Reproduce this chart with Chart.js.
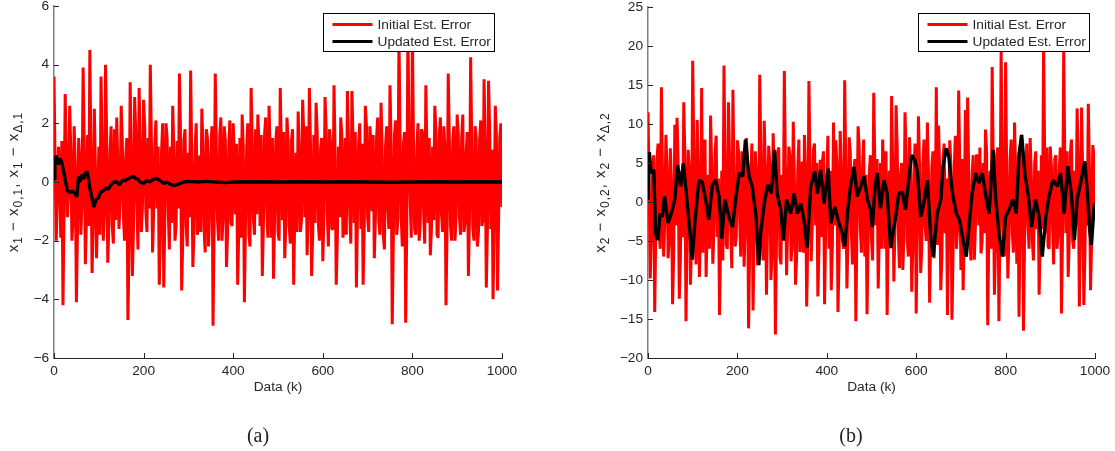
<!DOCTYPE html>
<html>
<head>
<meta charset="utf-8">
<script src="https://cdn.jsdelivr.net/npm/chart.js@4.4.1/dist/chart.umd.min.js"></script>
<style>
  html, body { margin: 0; padding: 0; background: #fff; }
  #wrap { position: relative; width: 1115px; height: 451px; overflow: hidden; }
  canvas { position: absolute; top: 0; }
  .cap { position: absolute; top: 423px; width: 60px; line-height: 24px; text-align: center;
         font-family: "Liberation Serif", "DejaVu Serif", serif; font-size: 20px; color: #222; }
</style>
</head>
<body>
<div id="wrap">
  <canvas id="chartA" width="560" height="451" style="left:0"></canvas>
  <canvas id="chartB" width="555" height="451" style="left:560px"></canvas>
  <div class="cap" style="left:228px">(a)</div>
  <div class="cap" style="left:821px">(b)</div>
</div>
<script>
// --- datos ---
// serie roja: valores en k = 0, 5, 10 ... y valores intermedios en k = 2.5, 7.5 ...
const stepK = 5;
const seriesNames = ['Initial Est. Error', 'Updated Est. Error'];

// (a) x1
const red1 = [
  3.6, -2.0, 1.2, -1.9, -4.2, 3.0, -1.2, 2.6, -2.0, 1.9,
  -4.1, 1.5, -1.8, 3.9, -2.8, 1.6, 4.5, -3.1, 2.5, -2.6,
  1.2, 3.6, -2.0, 4.0, -2.75, 1.0, -1.5, 1.8, 2.2, -1.6,
  2.6, -1.2, 0.8, -4.7, 3.4, -3.2, 2.9, -0.8, 3.2, -1.7,
  2.8, -1.0, 1.5, 4.0, -2.4, 1.3, -0.9, -3.5, 1.0, -3.6,
  2.0, -1.0, 1.2, 2.6, -2.0, 1.4, 3.7, -3.7, 1.4, -1.5,
  1.0, 3.8, -2.9, 1.2, -1.8, 0.9, 2.5, -1.6, 1.8, -2.2,
  1.0, -4.9, 3.7, -1.3, 1.6, -2.0, 1.9, -2.9, 1.2, -1.4,
  2.0, -1.1, -3.5, 1.5, 2.3, -4.1, 1.1, -1.8, 3.2, -1.2,
  1.8, 2.3, -1.5, -3.2, 1.6, -1.0, 2.6, -1.9, -3.3, 1.4,
  -1.7, 3.2, -1.3, -2.6, 2.2, -1.5, 1.4, -3.5, 1.0, 2.4,
  -1.7, 2.8, -1.2, -2.5, 3.2, -3.2, 1.6, 2.7, -1.4, 1.1,
  -2.7, 2.9, -1.0, 1.8, -1.6, 3.3, -3.5, 1.2, 2.2, -1.9,
  1.5, 3.1, -1.0, 3.1, -1.4, -3.6, 1.3, -1.6, -3.5, 2.6,
  -1.2, 1.9, -1.0, -2.6, 1.5, -1.3, 2.7, -1.8, 1.2, -0.9,
  3.3, -4.85, 1.6, -1.8, 5.0, -1.2, 1.3, -4.8, 5.2, -0.6,
  5.1, -1.6, 1.2, -2.0, 1.8, -1.0, 3.3, -1.4, -2.5, 1.2,
  2.6, -1.8, 1.6, -1.1, 1.9, -4.2, 3.7, -1.5, 1.4, -2.0,
  2.3, -1.2, 1.5, -1.7, 1.0, -3.2, 4.25, -1.6, 1.9, -2.2,
  1.4, -1.5, 3.5, -3.6, 3.45, -1.6, -4.0, 2.6, -3.7, 1.5,
  -0.85
];
const redMid1 = [
  0.6, -0.4, 0.3, 1.4, -1.0, 0.9, -0.3, 1.1, -1.3, 0.5,
  -1.6, 0.7, -0.6, 1.3, -1.2, -1.5, 0.9, -1.4, 0.4, -0.9,
  -1.8, 1.0, -1.1, 1.6, -1.4, 1.9, -2.1, -1.3, 0.6, -0.7,
  1.4, -2.0, 1.5, -2.2, 1.0, -1.5, 1.7, -2.3, 1.2, -0.8,
  1.9, -1.7, -0.9, 1.3, -1.0, 2.1, 1.2, -1.8, 2.0, -1.1,
  1.5, -2.3, -1.4, 1.1, -1.5, -0.9, 1.6, -1.9, 1.8, -2.2,
  -1.2, 0.8, -1.6, 2.0, -1.3, -1.7, 1.2, -2.4, 1.5, -0.9,
  1.9, -1.4, 1.1, -2.0, 2.2, -1.2, 1.4, -1.7, 2.1, -1.5,
  1.0, 1.3, -1.6, -1.9, 1.2, -1.3, 2.0, -2.2, 1.5, -1.8,
  -1.1, 1.3, 1.6, -1.4, 2.2, -1.9, 1.0, 1.5, -1.2, 1.9,
  -2.0, 1.2, 1.7, -1.5, 1.4, -2.1, 1.8, -1.0, -1.7, 1.1,
  -1.3, 1.6, 1.9, -1.1, 1.3, -1.8, -1.4, 1.7, -2.0, 1.5,
  -1.2, 1.8, -2.2, 1.3, -1.6, 1.0, -1.9, -1.2, 1.6, -1.4,
  -1.8, 1.2, -2.1, 1.5, 1.7, -1.1, 2.0, 1.3, -1.5, 1.9,
  -1.7, 1.4, 1.6, -1.2, 2.2, -1.8, 1.1, -2.3, 1.9, -1.6,
  1.3, -1.9, 2.1, -1.3, 1.6, -2.2, 1.7, -1.5, 1.4, -1.9,
  1.2, -1.8, 2.0, -1.4, 1.7, -2.1, 1.0, 1.5, -1.6, -1.3,
  1.8, -1.9, 2.2, -1.7, 1.2, -1.5, 1.4, -2.0, 1.9, -1.2,
  1.6, -1.8, 2.3, -1.4, 1.7, -1.1, 1.3, -2.0, 1.5, -1.7,
  2.1, -1.3, 1.2, -1.6, 1.8, 1.1, -1.4, 1.6, -1.2, 2.0
];
const kBlack1 = [0, 2, 5, 9, 13, 17, 21, 26, 30, 36, 41, 46, 51, 55, 58, 62, 66, 70, 74, 77,
  80, 84, 89, 94, 99, 104, 110, 116, 121, 127, 133, 140, 146, 152, 159, 165, 171, 177, 182, 187,
  192, 200, 207, 214, 222, 229, 237, 245, 252, 260, 268, 274, 282, 290, 300, 320, 340, 360, 380, 400,
  450, 500, 550, 600, 650, 700, 750, 800, 850, 900, 950, 1000];
const black1 = [0.1, 0.7, 0.9, 0.6, 0.8, 0.7, 0.4, 0.0, -0.3, -0.35, -0.3, -0.4, -0.5, 0.2, 0.0, 0.25, 0.1, 0.3, 0.35, 0.1,
  -0.2, -0.5, -0.85, -0.6, -0.55, -0.35, -0.3, -0.2, -0.25, -0.1, 0.0, 0.0, -0.1, 0.05, 0.05, 0.1, 0.15, 0.2, 0.12, 0.1,
  0.0, -0.05, 0.05, 0.0, 0.1, 0.12, 0.05, -0.05, 0.0, -0.08, -0.12, -0.1, -0.05, 0.0, 0.02, 0.0, 0.02, 0.0, -0.02, 0.0,
  0.01, 0.0, 0.01, 0.0, 0.01, 0.0, -0.01, 0.0, 0.01, 0.0, 0.01, 0.0];

// (b) x2
const red2 = [
  11.5, -9.8, 3.0, -14.1, 5.4, -4.0, 14.7, -7.0, 8.6, -7.2,
  6.9, -13.1, 9.9, 10.8, -12.4, 4.0, 12.8, -15.3, 6.7, -10.6,
  18.1, -3.0, 10.5, -9.6, 14.6, 5.4, -9.6, 3.5, 11.1, -7.9,
  6.4, -4.5, -14.5, 4.0, 17.5, -5.5, 12.8, -3.5, 14.4, -5.7,
  7.9, -2.0, 6.5, -8.3, 8.2, -16.2, 3.0, -13.9, 6.5, -8.1,
  16.3, -4.0, 10.4, -11.9, 7.2, -10.0, 8.8, -17.0, 6.3, -7.0,
  3.5, 16.8, -9.4, 7.1, -7.6, 10.3, -10.6, 4.0, -6.4, 5.2,
  8.6, -13.4, 15.5, -7.6, 6.7, -3.0, -12.1, 5.4, 5.0, -13.1,
  3.5, -6.0, -11.3, 10.2, 7.9, -14.1, 9.1, -5.0, 15.6, -11.1,
  8.3, -4.0, 3.0, -15.3, 9.7, -3.5, 4.5, -7.0, -14.4, 3.7,
  -4.9, 14.0, -3.0, -11.1, 5.0, 8.0, -6.0, -14.5, 4.0, 13.6,
  -10.2, 12.4, -4.0, 3.5, -8.7, 11.5, -5.0, 8.3, -11.5, 4.0,
  -14.3, 11.0, -9.1, 5.0, -3.0, 10.2, -12.9, 4.5, -7.2, 14.7,
  9.8, -11.3, 5.5, -4.0, -14.5, 7.9, -15.1, 4.0, -6.0, 14.3,
  -8.7, -11.3, 11.8, 13.4, -5.0, 3.5, -7.4, 6.1, -3.0, -6.6,
  5.0, 9.3, -15.8, 4.0, 17.3, -11.9, 6.0, -15.3, 19.5, -5.0,
  17.9, -9.8, 5.5, -4.0, 10.2, -7.9, -14.7, 8.6, -16.5, 4.0,
  -3.0, 8.2, -5.3, 5.0, -3.5, -11.9, 6.0, 20.0, -4.0, -5.7,
  7.1, -3.0, 5.5, -6.0, 4.0, -14.3, 19.5, -4.0, -9.6, 6.3,
  -5.0, 4.0, 12.0, -13.4, 12.1, -13.2, 5.0, 12.6, -11.3, 7.3,
  -2.3
];
const redMid2 = [
  2.5, -4.0, 6.0, -3.5, 7.5, -6.0, 3.0, -2.5, 4.5, -5.0,
  2.0, -6.5, -3.0, 5.0, -7.0, -4.5, 6.0, -3.0, 4.0, -5.5,
  7.0, -8.0, 3.5, -4.0, -6.5, 8.0, -2.5, -6.0, 4.5, -3.5,
  8.5, 3.0, -5.0, -7.5, 4.0, -6.0, 5.5, -8.5, 3.0, -4.5,
  6.5, -7.0, 4.0, -3.0, 5.5, -6.0, 7.5, -4.0, 3.5, -5.5,
  6.0, -7.5, 4.5, -3.0, 5.0, -6.5, 3.5, -4.5, 7.0, -8.0,
  -5.0, 4.0, -3.5, 6.0, -5.5, 3.0, -7.0, 8.0, -4.0, -6.5,
  3.5, -5.0, 4.5, -3.0, 7.5, 5.0, -6.0, -4.5, 6.5, -3.5,
  8.5, 4.0, -5.5, -3.0, 5.0, -7.0, 3.5, -6.0, 4.0, -4.5,
  6.5, -8.0, 5.5, -3.0, 7.0, -6.5, 8.0, 3.5, -5.0, 6.0,
  -7.5, 4.5, 5.5, -4.0, -6.0, 3.0, 6.5, -3.5, -5.5, 4.0,
  -3.0, 7.0, -8.5, 5.0, -4.5, 6.0, -7.0, 3.5, -5.5, 7.5,
  -3.0, 4.5, -6.0, 8.0, -5.0, 3.5, -4.0, 6.5, -3.5, -5.5,
  4.0, -7.0, 7.5, 3.0, -4.5, 5.0, -6.5, 8.5, -3.5, 4.5,
  5.5, -4.0, -6.0, 3.0, -7.5, 6.0, -3.0, 5.5, 7.0, -5.0,
  -4.0, 6.5, -3.5, -6.0, 4.0, -5.5, 7.0, -3.0, 5.0, -7.0,
  3.5, -4.5, 8.0, -6.5, 4.0, 5.0, -3.0, 6.0, -4.5, 7.5,
  -6.0, 3.5, -7.5, 6.5, 4.0, -5.0, -3.5, 5.5, 7.0, -6.0,
  4.5, -8.0, 6.0, -4.0, 7.0, -3.5, 5.0, 6.5, -4.5, 8.0,
  -6.0, -3.0, 5.5, -4.0, 3.5, -6.5, -3.0, 4.5, -5.0, 6.0
];
const kBlack2 = [0, 3, 7, 13, 17, 22, 27, 32, 37, 45, 52, 60, 66, 73, 79, 87, 94, 99, 105, 114,
  121, 129, 136, 144, 151, 159, 165, 172, 181, 189, 196, 204, 212, 218, 226, 233, 241, 248, 252, 260,
  268, 276, 283, 289, 297, 303, 310, 319, 327, 334, 342, 349, 356, 364, 373, 379, 386, 394, 403, 409,
  418, 427, 435, 440, 447, 453, 461, 468, 476, 483, 491, 498, 502, 508, 513, 520, 528, 535, 543, 548,
  554, 561, 569, 576, 584, 590, 597, 603, 610, 617, 625, 632, 638, 647, 655, 660, 667, 673, 681, 690,
  697, 705, 712, 718, 725, 733, 740, 748, 757, 763, 772, 778, 785, 793, 800, 808, 816, 824, 830, 836,
  843, 851, 858, 867, 875, 882, 890, 897, 906, 916, 923, 931, 939, 947, 954, 960, 969, 977, 983, 988,
  992, 998, 1000];
const black2 = [0.3, 6.4, 3.7, 4.1, -4.0, -4.9, -1.5, -1.9, 0.7, -2.7, -1.5, 0.3, 4.7, 2.0, 4.95, 0.3, -4.0, -7.4, -2.5, 2.8,
  2.6, 0.3, -2.3, 2.2, 2.8, 0.7, -4.7, 0.3, -1.9, -3.2, 0.3, 3.7, 3.3, 8.0, 3.3, 2.0, -1.5, -8.1, -4.0, -0.2,
  2.2, 1.1, 6.7, 1.1, -1.0, -4.9, 0.3, -1.5, 1.1, -1.5, -0.2, -2.3, -5.9, 2.0, 3.9, 1.1, 4.1, -0.2, 4.3, -2.7,
  -0.6, -2.7, -4.0, -5.7, -1.0, 2.0, 4.5, 0.7, 2.0, 3.3, 0.3, -1.0, -3.2, 2.0, 3.7, -0.8, 2.8, 1.1, -5.9, -4.0,
  -1.9, 1.1, 1.3, -1.0, 3.3, 6.0, 5.4, 3.7, -1.9, -0.2, 2.8, -4.0, -7.0, -1.5, 0.3, 4.5, 6.9, 5.8, 1.1, -1.5,
  -2.3, -4.9, -7.0, -3.2, 1.1, 3.7, 2.4, 3.7, 0.3, -1.5, 6.7, 0.3, -4.0, -7.0, -1.9, -1.0, 0.3, -1.5, 6.2, 8.6,
  3.7, 0.7, -3.2, 0.3, -1.9, -7.0, -1.9, 0.7, 2.8, 2.0, 3.7, -1.5, 4.6, 1.1, -4.9, 0.3, 2.8, 5.2, 1.1, -3.6,
  -5.5, -0.6, -0.2];
// --- fin de los datos ---

const FONT = '"Liberation Sans", Arial, Helvetica, sans-serif';
const FS = 13.7;
const INK = '#262626';
const minus = v => String(v).replace('-', '\u2212');

// junta los valores principales y los intermedios en puntos {x, y}
function redPoints(main, mid) {
  const pts = [];
  main.forEach((v, i) => {
    pts.push({ x: i * stepK, y: v });
    if (i < mid.length) pts.push({ x: i * stepK + stepK / 2, y: mid[i] });
  });
  return pts;
}

// ejes estilo MATLAB: marcas hacia dentro, leyenda con caja y titulo del eje y con subindices
const matlabAxes = {
  id: 'matlabAxes',
  afterDraw(chart, args, o) {
    const ctx = chart.ctx;
    const area = chart.chartArea;
    const xs = chart.scales.x, ys = chart.scales.y;
    ctx.save();

    // marcas
    ctx.strokeStyle = INK;
    ctx.lineWidth = 1;
    ctx.beginPath();
    xs.ticks.forEach(t => {
      const p = Math.round(xs.getPixelForValue(t.value)) + 0.5;
      ctx.moveTo(p, area.bottom); ctx.lineTo(p, area.bottom - 5);
    });
    ys.ticks.forEach(t => {
      const p = Math.round(ys.getPixelForValue(t.value)) + 0.5;
      ctx.moveTo(area.left, p); ctx.lineTo(area.left + 5, p);
    });
    ctx.stroke();

    // leyenda
    const sets = chart.data.datasets;
    ctx.font = FS + 'px ' + FONT;
    const tw = Math.max(...sets.map(d => ctx.measureText(d.label).width));
    const w = Math.round(tw + 58), h = 38;
    const bx = Math.round(area.right - o.legendRight - w) + 0.5;
    const by = Math.round(area.top + o.legendTop) + 0.5;
    ctx.fillStyle = '#fff';
    ctx.fillRect(bx, by, w, h);
    ctx.strokeStyle = '#000';
    ctx.lineWidth = 1;
    ctx.strokeRect(bx, by, w, h);
    sets.forEach((d, i) => {
      const ry = by + 11 + i * 17;
      ctx.strokeStyle = d.borderColor;
      ctx.lineWidth = 3;
      ctx.beginPath();
      ctx.moveTo(bx + 9, ry); ctx.lineTo(bx + 49, ry);
      ctx.stroke();
      ctx.fillStyle = INK;
      ctx.textBaseline = 'middle';
      ctx.textAlign = 'left';
      ctx.fillText(d.label, bx + 54, ry + 0.5);
    });

    // titulo del eje y
    const parts = o.title;
    const fontOf = sub => (sub ? '12px ' : '15px ') + FONT;
    ctx.letterSpacing = '1px';
    let total = 0;
    parts.forEach(([s, sub]) => { ctx.font = fontOf(sub); total += ctx.measureText(s).width; });
    ctx.translate(o.titleX, (area.top + area.bottom) / 2);
    ctx.rotate(-Math.PI / 2);
    ctx.fillStyle = INK;
    ctx.textBaseline = 'alphabetic';
    let cx = -total / 2;
    parts.forEach(([s, sub]) => {
      ctx.font = fontOf(sub);
      ctx.fillText(s, cx, sub ? 4 : 0);
      cx += ctx.measureText(s).width;
    });
    ctx.restore();
  }
};

function makeChart(id, cfg) {
  return new Chart(document.getElementById(id), {
    type: 'line',
    data: {
      datasets: [
        {
          label: seriesNames[0],
          data: redPoints(cfg.red, cfg.redMid),
          borderColor: '#ff0000',
          borderWidth: 3,
          borderJoinStyle: 'bevel',
          pointRadius: 0,
          order: 2
        },
        {
          label: seriesNames[1],
          data: cfg.kBlack.map((k, i) => ({ x: k, y: cfg.black[i] })),
          borderColor: '#000000',
          borderWidth: 3.4,
          borderJoinStyle: 'bevel',
          pointRadius: 0,
          order: 1
        }
      ]
    },
    options: {
      responsive: false,
      animation: false,
      devicePixelRatio: 1,
      layout: { padding: cfg.padding },
      plugins: {
        legend: { display: false },
        tooltip: { enabled: false },
        matlabAxes: { title: cfg.title, titleX: cfg.titleX, legendRight: cfg.legendRight, legendTop: cfg.legendTop }
      },
      scales: {
        x: {
          type: 'linear', min: 0, max: 1000,
          ticks: { stepSize: 200, padding: 5, color: INK, font: { family: FONT, size: FS }, maxRotation: 0, callback: v => String(v) },
          grid: { drawOnChartArea: false, drawTicks: false },
          border: { color: INK, width: 1 },
          title: { display: true, text: 'Data (k)', color: INK, font: { family: FONT, size: FS }, padding: { top: 0, bottom: 3 } },
          afterFit: s => { s.height = 40; s.paddingLeft = 0; s.paddingRight = 0; }
        },
        y: {
          type: 'linear', min: cfg.yMin, max: cfg.yMax,
          ticks: { stepSize: cfg.yStep, padding: 5, color: INK, font: { family: FONT, size: FS }, callback: v => minus(v) },
          grid: { drawOnChartArea: false, drawTicks: false },
          border: { color: '#808080', width: 1.5 },
          afterFit: s => { s.width = cfg.yWidth; s.paddingTop = 0; s.paddingBottom = 0; }
        }
      }
    },
    plugins: [matlabAxes]
  });
}

makeChart('chartA', {
  red: red1, redMid: redMid1, kBlack: kBlack1, black: black1,
  yMin: -6, yMax: 6, yStep: 2, yWidth: 54,
  padding: { left: 0, top: 6, right: 58, bottom: 53 },
  titleX: 18, legendRight: 8, legendTop: 7,
  title: [['x', 0], ['1', 1], [' \u2212 x', 0], ['0,1', 1], [', x', 0], ['1', 1], [' \u2212 x', 0], ['\u0394,1', 1]]
});

makeChart('chartB', {
  red: red2, redMid: redMid2, kBlack: kBlack2, black: black2,
  yMin: -20, yMax: 25, yStep: 5, yWidth: 88,
  padding: { left: 0, top: 7, right: 20, bottom: 53 },
  titleX: 45, legendRight: 6, legendTop: 6,
  title: [['x', 0], ['2', 1], [' \u2212 x', 0], ['0,2', 1], [', x', 0], ['2', 1], [' \u2212 x', 0], ['\u0394,2', 1]]
});
</script>
</body>
</html>
